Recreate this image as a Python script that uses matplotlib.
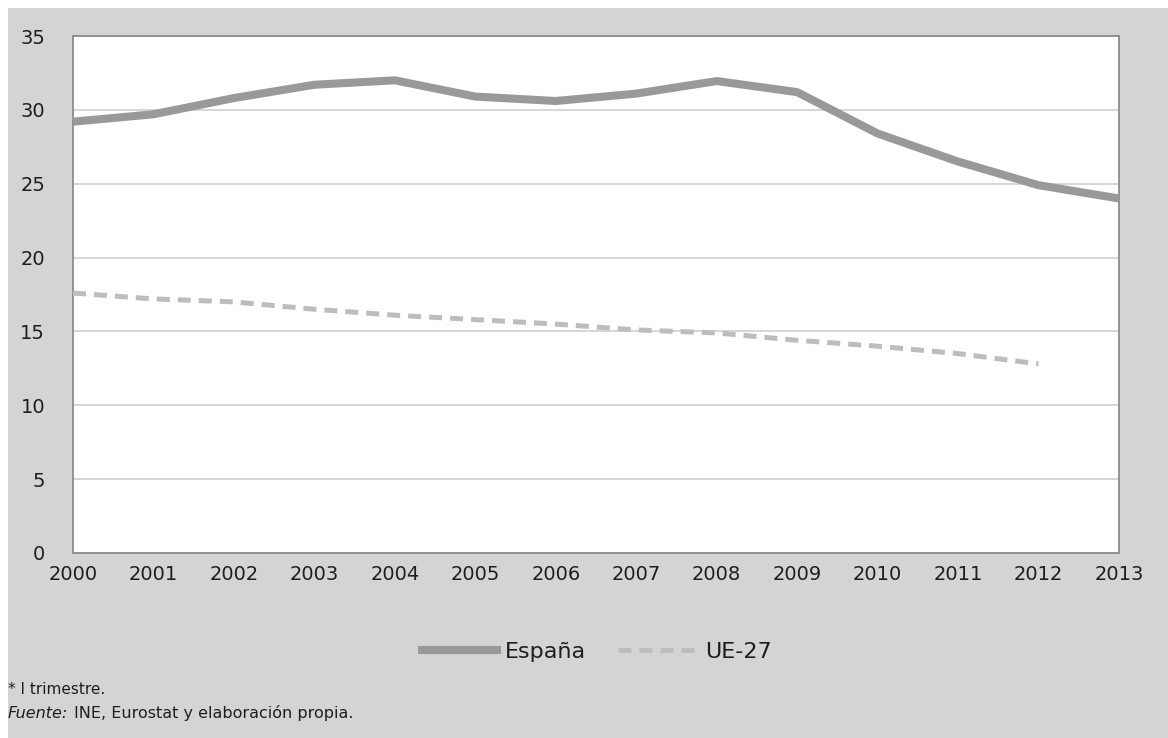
import numpy as np
import matplotlib.pyplot as plt
from matplotlib.patches import Rectangle

# tasa de abandono escolar temprano (%)
years = [2000, 2001, 2002, 2003, 2004, 2005, 2006, 2007, 2008, 2009, 2010, 2011, 2012, 2013]
espana = [29.2, 29.7, 30.8, 31.7, 32.0, 30.9, 30.6, 31.1, 31.95, 31.2, 28.4, 26.5, 24.9, 24.0]
years_ue = [2000, 2001, 2002, 2003, 2004, 2005, 2006, 2007, 2008, 2009, 2010, 2011, 2012]
ue27 = [17.6, 17.2, 17.0, 16.5, 16.1, 15.8, 15.5, 15.1, 14.9, 14.4, 14.0, 13.5, 12.8]
yticks = [0, 5, 10, 15, 20, 25, 30, 35]

bg = '#d4d4d4'
txt = '#1e1e1e'
fig = plt.figure(figsize=(11.68, 7.38), dpi=100)
fig.patch.set_facecolor('white')
# gray panel, thin white margin top/left
fig.patches.append(Rectangle((8 / 1168, 0), 1, 1 - 8 / 738, transform=fig.transFigure,
                             facecolor=bg, edgecolor='none', zorder=-10))

ax = fig.add_axes([73 / 1168, 185 / 738, (1119 - 73) / 1168, (553 - 36) / 738])
ax.set_facecolor('white')

ax.plot(years, espana, color='#999999', lw=5.8, solid_capstyle='butt', label='España', zorder=3)
ax.plot(years_ue, ue27, color='#bdbdbd', lw=3.6, dashes=(2.6, 1.6), label='UE-27', zorder=3)

ax.set_xlim(2000, 2013)
ax.set_ylim(0, 35)
ax.set_xticks(years)
ax.set_yticks(yticks)
ax.yaxis.grid(True, color='#d0d0d0', lw=1.2)
ax.set_axisbelow(True)
ax.tick_params(axis='both', length=0, labelsize=14, colors=txt)
ax.tick_params(axis='y', pad=20)
ax.tick_params(axis='x', pad=9)
for s in ax.spines.values():
    s.set_color('#8c8c8c')
    s.set_linewidth(1.3)

fig.legend(loc='center', bbox_to_anchor=(595 / 1168, 1 - 652 / 738), ncol=2,
           frameon=False, fontsize=16, handlelength=3.7, handletextpad=0.2,
           columnspacing=1.45, labelcolor=txt)

fig.text(8 / 1168, 1 - 690 / 738, '* I trimestre.', fontsize=11, va='center', color=txt)
fuente = fig.text(8 / 1168, 1 - 713 / 738, 'Fuente:', fontsize=11.5, va='center',
                  style='italic', color=txt)
ax.annotate('INE, Eurostat y elaboración propia.', xy=(1, 0.5), xycoords=fuente,
            xytext=(4, 0), textcoords='offset points', fontsize=11.5, va='center', color=txt,
            annotation_clip=False)

fig.savefig('out.png', dpi=100, facecolor=fig.get_facecolor())
